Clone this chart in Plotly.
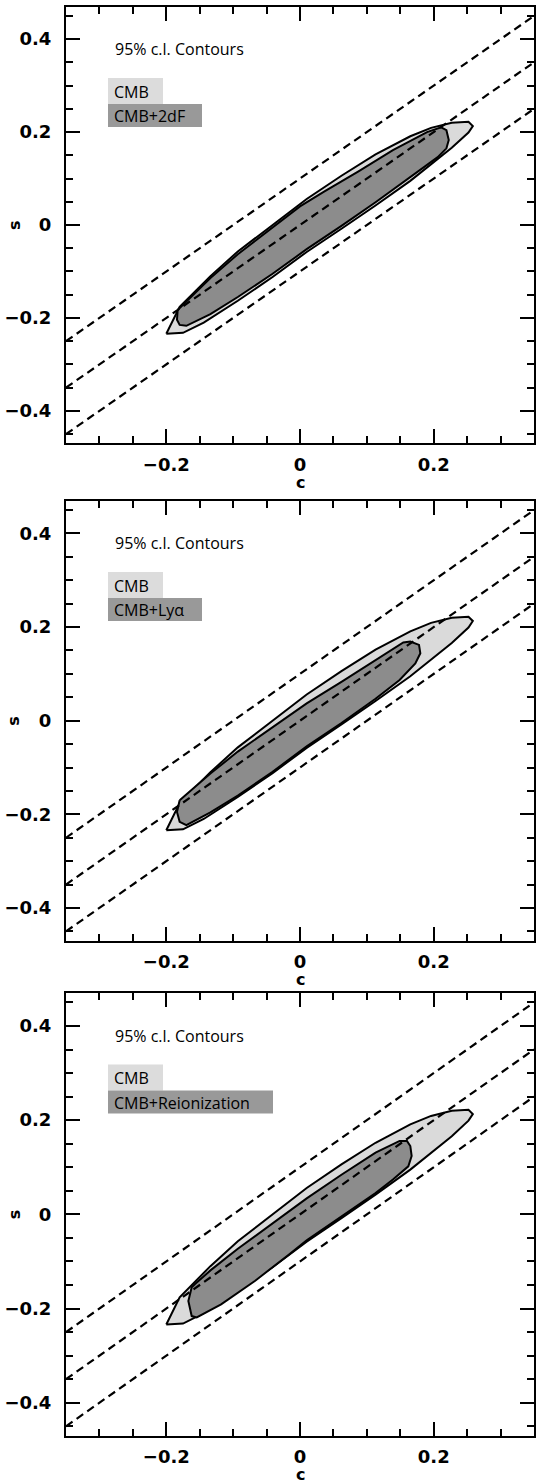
import plotly.graph_objects as go

# ---- data ----
c_range = [-0.35, 0.35]
s_range = [-0.47, 0.47]
line_offsets = [0.1, 0.0, -0.1]          # dashed lines  s = c + offset

# CMB only, 95% c.l. contour (same in all panels)
cmb_c = [-0.200, -0.175, -0.144, -0.093, -0.041, 0.010, 0.062, 0.113, 0.165, 0.190, 0.227, 0.252,
         0.2585, 0.252, 0.227, 0.196, 0.165, 0.113, 0.062, 0.010, -0.041, -0.093, -0.134, -0.162, -0.180, -0.200]
cmb_s = [-0.234, -0.232, -0.210, -0.163, -0.112, -0.058, -0.008, 0.042, 0.095, 0.124, 0.166, 0.199,
         0.213, 0.222, 0.220, 0.209, 0.191, 0.152, 0.106, 0.056, 0.001, -0.057, -0.110, -0.150, -0.176, -0.234]

# CMB + 2dF
df_c = [-0.183, -0.165, -0.134, -0.093, -0.041, 0.000, 0.036, 0.0875, 0.139, 0.190, 0.211, 0.219, 0.2225,
        0.219, 0.206, 0.165, 0.113, 0.062, 0.010, -0.041, -0.093, -0.134, -0.170, -0.180, -0.184, -0.183]
df_s = [-0.183, -0.157, -0.114, -0.063, -0.005, 0.040, 0.072, 0.1155, 0.161, 0.200, 0.210, 0.204, 0.183,
        0.165, 0.146, 0.103, 0.049, -0.002, -0.052, -0.105, -0.155, -0.192, -0.217, -0.215, -0.204, -0.183]

# CMB + Ly-alpha
lya_c = [-0.180, -0.165, -0.134, -0.093, -0.041, 0.010, 0.062, 0.113, 0.1545, 0.165, 0.178, 0.180, 0.1725,
         0.149, 0.113, 0.062, 0.010, -0.041, -0.093, -0.134, -0.170, -0.180, -0.184, -0.180]
lya_s = [-0.170, -0.152, -0.113, -0.066, -0.013, 0.037, 0.083, 0.130, 0.167, 0.169, 0.162, 0.144, 0.1225,
         0.087, 0.047, -0.005, -0.055, -0.109, -0.160, -0.196, -0.223, -0.216, -0.195, -0.170]

# CMB + Reionization
rei_c = [-0.157, -0.134, -0.093, -0.041, 0.010, 0.062, 0.113, 0.149, 0.160, 0.165, 0.167, 0.162, 0.139,
         0.113, 0.062, 0.010, -0.0155, -0.067, -0.118, -0.1545, -0.162, -0.167, -0.162, -0.157]
rei_s = [-0.148, -0.119, -0.073, -0.019, 0.034, 0.084, 0.131, 0.156, 0.156, 0.145, 0.124, 0.102, 0.074,
         0.045, -0.005, -0.055, -0.084, -0.141, -0.191, -0.219, -0.216, -0.184, -0.155, -0.148]

panel_labels = ["CMB+2dF", "CMB+Ly\u03b1", "CMB+Reionization"]
panel_c = [df_c, lya_c, rei_c]
panel_s = [df_s, lya_s, rei_s]
title_text = "95% c.l. Contours"
x_title, y_title = "c", "s"

# ---- styling / layout ----
W, H = 536, 1484
LIGHT, DARK = "#dadada", "#8c8c8c"
LEG_LIGHT, LEG_DARK = "#dcdcdc", "#999999"
x_px = (66, 534)
panels_px = [(6.6, 443.4), (500.7, 940.7), (993.0, 1435.7)]
dark_box_right_px = [202, 202, 273]

tick_font = dict(family="DejaVu Sans", size=18, color="black", weight="bold")
text_font = dict(family="Open Sans", size=16, color="black")
title_font = dict(family="DejaVu Sans", size=16, color="black", weight="bold")

fig = go.Figure()
layout = dict(width=W, height=H, margin=dict(l=0, r=0, t=0, b=0),
              paper_bgcolor="white", plot_bgcolor="white", showlegend=False)
shapes, annotations = [], []

xdom = [x_px[0] / W, x_px[1] / W]
pw = x_px[1] - x_px[0]

for i in range(3):
    n = "" if i == 0 else str(i + 1)
    xa, ya = "x" + n, "y" + n
    top, bot = panels_px[i]
    ph = bot - top
    ydom = [1 - bot / H, 1 - top / H]

    axis_common = dict(showline=True, linewidth=2, linecolor="black", mirror="allticks",
                       ticks="inside", ticklen=14, tickwidth=2, tickcolor="black",
                       showgrid=False, zeroline=False, tickfont=tick_font,
                       minor=dict(dtick=0.05, ticks="inside", ticklen=7, tickwidth=2,
                                  tickcolor="black", showgrid=False))
    layout["xaxis" + n] = dict(axis_common, domain=xdom, range=c_range, tick0=0, dtick=0.2,
                               anchor=ya, ticklabelstandoff=4, tickformat=".1~f")
    layout["yaxis" + n] = dict(axis_common, domain=ydom, range=s_range, tick0=0, dtick=0.2,
                               anchor=xa, ticklabelstandoff=9, tickformat=".1~f")

    # contours
    fig.add_trace(go.Scatter(x=cmb_c, y=cmb_s, xaxis=xa, yaxis=ya, mode="lines", fill="toself",
                             fillcolor=LIGHT, line=dict(color="black", width=2), hoverinfo="skip"))
    fig.add_trace(go.Scatter(x=panel_c[i], y=panel_s[i], xaxis=xa, yaxis=ya, mode="lines",
                             fill="toself", fillcolor=DARK, line=dict(color="black", width=2),
                             hoverinfo="skip"))
    # dashed lines
    for off in line_offsets:
        fig.add_trace(go.Scatter(x=c_range, y=[c_range[0] + off, c_range[1] + off], xaxis=xa, yaxis=ya,
                                 mode="lines", line=dict(color="black", width=2.2, dash="8px,5px"),
                                 hoverinfo="skip"))

    def fx(px):
        return (px - x_px[0]) / pw

    def fy(py):
        return 1 - (py - top) / ph

    # legend boxes
    shapes.append(dict(type="rect", xref=xa + " domain", yref=ya + " domain",
                       x0=fx(108), x1=fx(163), y0=fy(top + 97.4), y1=fy(top + 71.4),
                       fillcolor=LEG_LIGHT, line=dict(width=0), layer="below"))
    shapes.append(dict(type="rect", xref=xa + " domain", yref=ya + " domain",
                       x0=fx(108), x1=fx(dark_box_right_px[i]), y0=fy(top + 120.4), y1=fy(top + 97.4),
                       fillcolor=LEG_DARK, line=dict(width=0), layer="below"))

    annotations.append(dict(text=title_text, xref=xa + " domain", yref=ya + " domain",
                            x=fx(113), y=fy(top + 42.5), xanchor="left", yanchor="middle",
                            showarrow=False, font=text_font))
    annotations.append(dict(text="CMB", xref=xa + " domain", yref=ya + " domain",
                            x=fx(112), y=fy(top + 85), xanchor="left", yanchor="middle",
                            showarrow=False, font=text_font))
    annotations.append(dict(text=panel_labels[i], xref=xa + " domain", yref=ya + " domain",
                            x=fx(112), y=fy(top + 109.5), xanchor="left", yanchor="middle",
                            showarrow=False, font=text_font))
    # axis titles
    annotations.append(dict(text=x_title, xref=xa, yref=ya + " domain", x=0, y=0, yshift=-39,
                            xanchor="center", yanchor="middle", showarrow=False, font=title_font))
    annotations.append(dict(text=y_title, xref="paper", yref=ya, x=14 / W, y=0, textangle=-90,
                            xanchor="center", yanchor="middle", showarrow=False, font=title_font))

layout["shapes"] = shapes
layout["annotations"] = annotations
fig.update_layout(**layout)
fig.write_html("out.html", config={"displayModeBar": False},
               post_script="document.body.style.margin='0';document.body.style.overflow='hidden';")
